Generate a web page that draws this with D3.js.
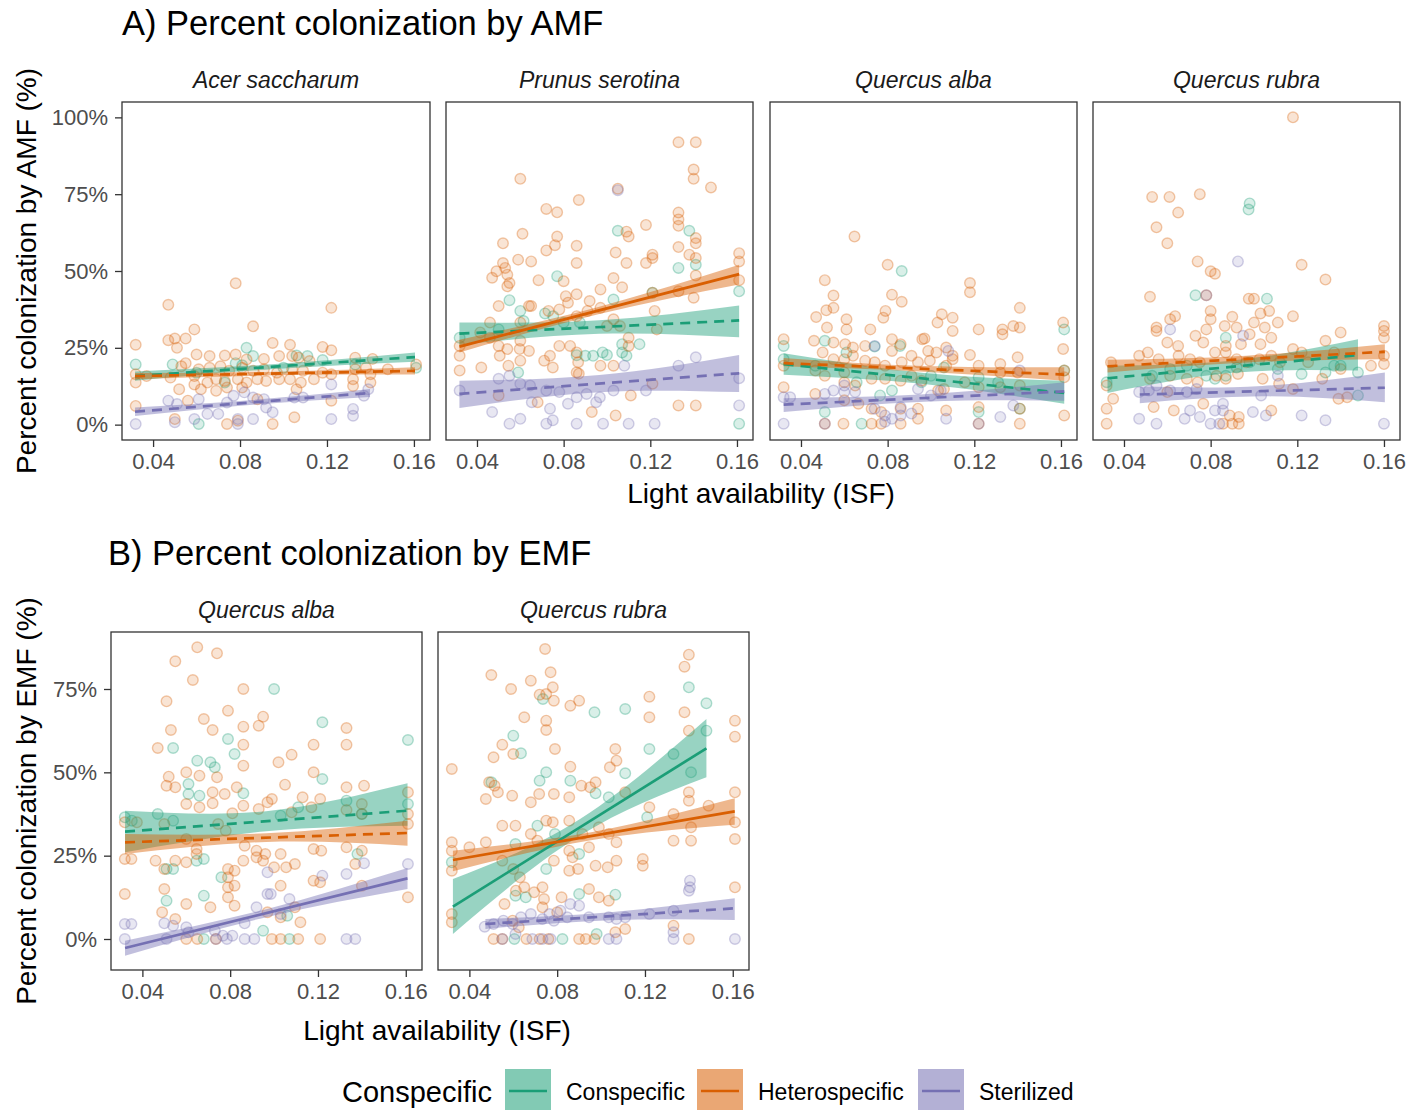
<!DOCTYPE html>
<html><head><meta charset="utf-8">
<script src="https://cdn.jsdelivr.net/npm/d3@7"></script>
<style>body{margin:0;background:#fff}svg{display:block}text{font-family:"Liberation Sans",Arial,sans-serif}</style>
</head><body><svg id="c" width="1424" height="1110"></svg>
<script>
// ---------- data ----------
const groups = ["Conspecific", "Heterospecific", "Sterilized"];
const groupColors = ["#1B9E77", "#D95F02", "#7570B3"];
const speciesA = ["Acer saccharum", "Prunus serotina", "Quercus alba", "Quercus rubra"];
const speciesB = ["Quercus alba", "Quercus rubra"];
const xTicks = [0.04, 0.08, 0.12, 0.16];
const yTicksA = [0, 0.25, 0.5, 0.75, 1];
const yTicksB = [0, 0.25, 0.5, 0.75];
const titleA = "A) Percent colonization by AMF";
const titleB = "B) Percent colonization by EMF";
const yTitleA = "Percent colonization by AMF (%)";
const yTitleB = "Percent colonization by EMF (%)";
const xTitle = "Light availability (ISF)";
const legendTitle = "Conspecific";

// Points [ISF, colonization]
const acerCon = [[0.032,0.196],[0.083,0.25],[0.1,0.185],[0.106,0.225],[0.111,0.223],[0.118,0.21],[0.081,0.193],[0.078,0.2],[0.073,0.137],[0.161,0.185],[0.061,0.002],[0.049,0.196],[0.086,0.223],[0.133,0.196],[0.06,0.169]];
const acerHet = [[0.078,0.46],[0.047,0.39],[0.122,0.38],[0.059,0.31],[0.086,0.32],[0.05,0.28],[0.055,0.28],[0.047,0.275],[0.032,0.26],[0.095,0.266],[0.103,0.26],[0.118,0.253],[0.122,0.242],[0.051,0.25],[0.06,0.228],[0.066,0.223],[0.073,0.225],[0.078,0.228],[0.083,0.212],[0.091,0.214],[0.098,0.223],[0.104,0.223],[0.107,0.218],[0.112,0.207],[0.133,0.218],[0.141,0.214],[0.053,0.19],[0.055,0.2],[0.061,0.18],[0.066,0.185],[0.071,0.19],[0.075,0.175],[0.081,0.185],[0.086,0.175],[0.091,0.18],[0.097,0.169],[0.104,0.18],[0.109,0.175],[0.118,0.169],[0.122,0.164],[0.133,0.18],[0.138,0.185],[0.161,0.196],[0.148,0.18],[0.032,0.164],[0.032,0.137],[0.037,0.158],[0.048,0.153],[0.059,0.158],[0.059,0.131],[0.065,0.137],[0.069,0.148],[0.073,0.142],[0.079,0.148],[0.083,0.137],[0.088,0.148],[0.092,0.142],[0.098,0.148],[0.103,0.148],[0.108,0.137],[0.114,0.148],[0.132,0.148],[0.132,0.126],[0.14,0.137],[0.14,0.164],[0.052,0.115],[0.062,0.115],[0.069,0.11],[0.074,0.121],[0.081,0.121],[0.106,0.115],[0.056,0.078],[0.088,0.083],[0.122,0.078],[0.032,0.061],[0.105,0.024],[0.074,0.002],[0.095,0.002],[0.05,0.018],[0.079,0.013]];
const acerSter = [[0.032,0.002],[0.047,0.078],[0.051,0.067],[0.061,0.083],[0.065,0.035],[0.07,0.035],[0.074,0.072],[0.077,0.094],[0.082,0.105],[0.086,0.088],[0.091,0.083],[0.095,0.04],[0.079,0.018],[0.086,0.018],[0.105,0.088],[0.109,0.088],[0.122,0.131],[0.122,0.018],[0.132,0.051],[0.132,0.029],[0.139,0.115],[0.137,0.094],[0.059,0.018],[0.05,0.008],[0.079,0.002],[0.092,0.056]];

const prunusCon = [[0.105,0.631],[0.138,0.631],[0.141,0.52],[0.133,0.51],[0.161,0.434],[0.077,0.483],[0.055,0.405],[0.06,0.37],[0.0615,0.337],[0.0714,0.362],[0.0752,0.353],[0.08,0.332],[0.086,0.226],[0.09,0.224],[0.0936,0.224],[0.098,0.235],[0.1,0.227],[0.107,0.235],[0.107,0.262],[0.109,0.224],[0.059,0.17],[0.103,0.407],[0.121,0.429],[0.032,0.283],[0.05,0.31],[0.161,0.003],[0.0875,0.332],[0.115,0.262]];
const prunusHet = [[0.133,0.919],[0.141,0.919],[0.14,0.83],[0.14,0.8],[0.06,0.8],[0.148,0.772],[0.105,0.768],[0.087,0.731],[0.072,0.702],[0.077,0.691],[0.133,0.69],[0.133,0.668],[0.133,0.647],[0.118,0.65],[0.061,0.621],[0.077,0.612],[0.052,0.59],[0.076,0.584],[0.086,0.582],[0.109,0.628],[0.11,0.612],[0.104,0.56],[0.072,0.567],[0.133,0.578],[0.141,0.607],[0.141,0.59],[0.138,0.553],[0.141,0.542],[0.121,0.553],[0.121,0.542],[0.161,0.558],[0.161,0.531],[0.059,0.537],[0.065,0.531],[0.086,0.526],[0.109,0.526],[0.118,0.526],[0.052,0.526],[0.053,0.51],[0.047,0.478],[0.054,0.488],[0.0684,0.47],[0.049,0.499],[0.103,0.477],[0.141,0.485],[0.161,0.47],[0.055,0.461],[0.054,0.45],[0.107,0.447],[0.08,0.467],[0.081,0.418],[0.082,0.397],[0.097,0.44],[0.086,0.424],[0.092,0.402],[0.121,0.429],[0.133,0.434],[0.14,0.413],[0.064,0.386],[0.06,0.332],[0.065,0.386],[0.05,0.386],[0.073,0.37],[0.078,0.375],[0.086,0.353],[0.091,0.37],[0.097,0.38],[0.103,0.343],[0.106,0.321],[0.1,0.321],[0.06,0.273],[0.064,0.24],[0.05,0.256],[0.054,0.246],[0.0597,0.246],[0.0505,0.224],[0.0545,0.192],[0.06,0.208],[0.0737,0.224],[0.078,0.256],[0.083,0.256],[0.086,0.235],[0.0867,0.203],[0.086,0.17],[0.087,0.166],[0.097,0.192],[0.103,0.192],[0.11,0.283],[0.11,0.256],[0.123,0.31],[0.122,0.37],[0.032,0.224],[0.032,0.176],[0.032,0.256],[0.042,0.186],[0.05,0.095],[0.068,0.073],[0.093,0.041],[0.104,0.03],[0.111,0.095],[0.133,0.0625],[0.141,0.0625],[0.121,0.133],[0.075,0.186],[0.071,0.208],[0.046,0.283],[0.046,0.332],[0.0415,0.3]];
const prunusSter = [[0.105,0.763],[0.047,0.041],[0.055,0.003],[0.06,0.019],[0.072,0.003],[0.075,0.014],[0.086,0.003],[0.0982,0.003],[0.11,0.003],[0.122,0.003],[0.032,0.111],[0.05,0.149],[0.055,0.159],[0.06,0.133],[0.0645,0.127],[0.072,0.111],[0.078,0.106],[0.086,0.089],[0.0906,0.1],[0.0967,0.089],[0.103,0.111],[0.108,0.192],[0.118,0.111],[0.133,0.192],[0.141,0.219],[0.161,0.151],[0.161,0.0625],[0.0653,0.073],[0.0737,0.052],[0.082,0.068],[0.095,0.073]];

const qalbaAmfCon = [[0.0865,0.5],[0.032,0.256],[0.032,0.213],[0.051,0.273],[0.061,0.235],[0.074,0.254],[0.0857,0.256],[0.0466,0.192],[0.0657,0.138],[0.082,0.111],[0.0956,0.138],[0.1,0.159],[0.122,0.154],[0.131,0.138],[0.1615,0.31],[0.1615,0.176],[0.106,0.186],[0.051,0.041],[0.068,0.003],[0.0765,0.095],[0.122,0.041],[0.141,0.052]];
const qalbaAmfHet = [[0.0647,0.612],[0.08,0.52],[0.051,0.47],[0.118,0.461],[0.118,0.431],[0.055,0.42],[0.082,0.423],[0.0865,0.4],[0.0517,0.372],[0.047,0.35],[0.055,0.38],[0.052,0.316],[0.061,0.343],[0.079,0.37],[0.078,0.348],[0.072,0.31],[0.061,0.31],[0.105,0.359],[0.11,0.348],[0.103,0.332],[0.141,0.38],[0.138,0.321],[0.141,0.316],[0.133,0.31],[0.133,0.294],[0.161,0.332],[0.161,0.246],[0.122,0.31],[0.11,0.305],[0.096,0.278],[0.097,0.28],[0.082,0.278],[0.082,0.24],[0.046,0.273],[0.032,0.278],[0.055,0.267],[0.0604,0.262],[0.064,0.251],[0.0696,0.256],[0.086,0.262],[0.091,0.224],[0.0987,0.24],[0.1025,0.235],[0.107,0.251],[0.11,0.224],[0.118,0.227],[0.05,0.235],[0.055,0.213],[0.06,0.213],[0.064,0.224],[0.0696,0.208],[0.074,0.203],[0.0788,0.192],[0.0865,0.203],[0.094,0.203],[0.0995,0.208],[0.107,0.192],[0.11,0.213],[0.122,0.192],[0.132,0.197],[0.14,0.219],[0.132,0.17],[0.14,0.17],[0.032,0.192],[0.0466,0.176],[0.051,0.159],[0.06,0.17],[0.06,0.138],[0.065,0.127],[0.0726,0.149],[0.0788,0.149],[0.086,0.143],[0.091,0.159],[0.0956,0.143],[0.1033,0.111],[0.106,0.116],[0.1156,0.138],[0.122,0.122],[0.132,0.122],[0.141,0.127],[0.1615,0.176],[0.1615,0.154],[0.032,0.122],[0.0466,0.1],[0.06,0.079],[0.0726,0.052],[0.077,0.041],[0.086,0.052],[0.094,0.052],[0.107,0.046],[0.122,0.057],[0.141,0.052],[0.1615,0.03],[0.051,0.003],[0.0596,0.003],[0.0726,0.003],[0.077,0.003],[0.086,0.003],[0.094,0.019],[0.122,0.003],[0.141,0.003],[0.0665,0.068]];
const qalbaAmfSter = [[0.032,0.089],[0.035,0.089],[0.051,0.1],[0.055,0.111],[0.06,0.106],[0.065,0.106],[0.06,0.127],[0.074,0.052],[0.0788,0.03],[0.082,0.019],[0.0788,0.009],[0.086,0.057],[0.086,0.03],[0.074,0.256],[0.108,0.24],[0.1,0.095],[0.1045,0.111],[0.107,0.019],[0.122,0.003],[0.132,0.025],[0.138,0.0625],[0.141,0.176],[0.032,0.003],[0.051,0.003],[0.091,0.036],[0.094,0.116]];

const qrubraAmfCon = [[0.098,0.72],[0.0975,0.7],[0.073,0.421],[0.106,0.41],[0.087,0.283],[0.078,0.159],[0.087,0.159],[0.082,0.149],[0.092,0.186],[0.098,0.203],[0.111,0.181],[0.133,0.17],[0.137,0.192],[0.14,0.192],[0.148,0.17],[0.148,0.095],[0.032,0.138],[0.053,0.159],[0.0613,0.181],[0.069,0.192],[0.122,0.165]];
const qrubraAmfHet = [[0.118,1.0],[0.053,0.741],[0.061,0.741],[0.075,0.75],[0.065,0.69],[0.055,0.642],[0.06,0.59],[0.074,0.531],[0.122,0.52],[0.08,0.499],[0.082,0.491],[0.133,0.472],[0.078,0.421],[0.052,0.416],[0.0976,0.41],[0.1,0.41],[0.08,0.37],[0.08,0.343],[0.103,0.362],[0.107,0.37],[0.118,0.353],[0.09,0.351],[0.0613,0.343],[0.0636,0.353],[0.055,0.316],[0.055,0.305],[0.078,0.31],[0.0865,0.321],[0.092,0.316],[0.1,0.332],[0.105,0.316],[0.111,0.332],[0.16,0.321],[0.16,0.305],[0.16,0.283],[0.06,0.267],[0.065,0.256],[0.073,0.289],[0.0766,0.267],[0.087,0.256],[0.094,0.262],[0.098,0.294],[0.103,0.262],[0.108,0.283],[0.118,0.246],[0.122,0.235],[0.133,0.273],[0.14,0.3],[0.137,0.235],[0.16,0.224],[0.16,0.197],[0.047,0.224],[0.034,0.203],[0.051,0.235],[0.056,0.213],[0.0652,0.224],[0.0705,0.213],[0.075,0.203],[0.082,0.235],[0.087,0.235],[0.092,0.213],[0.0964,0.203],[0.1025,0.213],[0.108,0.224],[0.112,0.203],[0.125,0.203],[0.14,0.181],[0.154,0.192],[0.032,0.127],[0.035,0.084],[0.032,0.052],[0.052,0.149],[0.0613,0.159],[0.069,0.149],[0.074,0.138],[0.0827,0.159],[0.087,0.149],[0.0926,0.165],[0.104,0.149],[0.1116,0.133],[0.118,0.116],[0.1315,0.149],[0.139,0.084],[0.143,0.089],[0.0537,0.057],[0.063,0.046],[0.0766,0.068],[0.0888,0.03],[0.093,0.025],[0.108,0.046],[0.032,0.003],[0.0857,0.003],[0.09,0.003],[0.093,0.003],[0.06,0.106]];
const qrubraAmfSter = [[0.0926,0.531],[0.078,0.421],[0.0613,0.31],[0.047,0.106],[0.0515,0.111],[0.055,0.127],[0.0613,0.111],[0.069,0.106],[0.0735,0.116],[0.095,0.289],[0.1033,0.095],[0.111,0.159],[0.082,0.046],[0.0857,0.068],[0.0857,0.046],[0.0705,0.046],[0.075,0.025],[0.08,0.003],[0.084,0.003],[0.047,0.019],[0.055,0.003],[0.068,0.019],[0.0995,0.041],[0.1055,0.03],[0.122,0.03],[0.133,0.014],[0.16,0.003]];

const qalbaEmfCon = [[0.1,0.75],[0.122,0.65],[0.161,0.597],[0.079,0.6],[0.082,0.555],[0.065,0.535],[0.071,0.53],[0.073,0.515],[0.054,0.573],[0.061,0.465],[0.086,0.437],[0.061,0.435],[0.066,0.43],[0.122,0.48],[0.032,0.365],[0.0352,0.355],[0.047,0.375],[0.054,0.355],[0.103,0.37],[0.111,0.395],[0.133,0.415],[0.14,0.375],[0.161,0.405],[0.051,0.21],[0.054,0.21],[0.0647,0.235],[0.068,0.24],[0.076,0.185],[0.068,0.13],[0.051,0.115],[0.095,0.025],[0.106,0.07],[0.107,0],[0.068,0],[0.138,0.255]];
const qalbaEmfHet = [[0.065,0.875],[0.074,0.857],[0.055,0.833],[0.063,0.777],[0.051,0.713],[0.086,0.75],[0.079,0.685],[0.068,0.66],[0.095,0.667],[0.053,0.627],[0.093,0.64],[0.086,0.637],[0.072,0.627],[0.133,0.633],[0.133,0.583],[0.118,0.583],[0.047,0.573],[0.086,0.583],[0.108,0.553],[0.102,0.53],[0.086,0.52],[0.118,0.5],[0.052,0.487],[0.06,0.5],[0.066,0.49],[0.074,0.485],[0.083,0.455],[0.105,0.463],[0.051,0.46],[0.055,0.455],[0.072,0.44],[0.0775,0.435],[0.099,0.42],[0.113,0.425],[0.121,0.42],[0.133,0.455],[0.141,0.46],[0.161,0.44],[0.161,0.375],[0.161,0.345],[0.06,0.405],[0.066,0.395],[0.072,0.407],[0.081,0.377],[0.086,0.4],[0.093,0.39],[0.097,0.41],[0.108,0.38],[0.117,0.395],[0.133,0.387],[0.14,0.405],[0.14,0.375],[0.032,0.35],[0.0375,0.35],[0.05,0.345],[0.06,0.3],[0.0647,0.27],[0.0745,0.345],[0.078,0.325],[0.0866,0.28],[0.092,0.265],[0.095,0.235],[0.1,0.215],[0.1055,0.215],[0.1095,0.225],[0.103,0.255],[0.096,0.255],[0.118,0.27],[0.1215,0.265],[0.133,0.275],[0.14,0.265],[0.137,0.225],[0.032,0.24],[0.035,0.24],[0.046,0.235],[0.05,0.21],[0.055,0.235],[0.06,0.23],[0.0647,0.255],[0.079,0.21],[0.079,0.185],[0.082,0.205],[0.079,0.155],[0.082,0.16],[0.079,0.125],[0.082,0.1],[0.086,0.235],[0.092,0.245],[0.103,0.16],[0.1095,0.095],[0.112,0.05],[0.118,0.175],[0.121,0.17],[0.14,0.16],[0.161,0.125],[0.032,0.135],[0.05,0.15],[0.06,0.105],[0.071,0.095],[0.055,0.06],[0.049,0.08],[0.06,0],[0.065,0],[0.0735,0],[0.099,0],[0.103,0],[0.111,0],[0.121,0],[0.103,0.065],[0.097,0.08]];
const qalbaEmfSter = [[0.032,0.045],[0.035,0.045],[0.032,0],[0.05,0.047],[0.054,0.04],[0.06,0.035],[0.061,0.02],[0.073,0.025],[0.0767,0.01],[0.0785,0],[0.081,0.01],[0.0866,0.047],[0.0866,0],[0.091,0],[0.097,0.135],[0.0985,0.135],[0.107,0.12],[0.103,0.075],[0.097,0.2],[0.122,0.19],[0.133,0.195],[0.141,0.227],[0.161,0.225],[0.133,0],[0.137,0],[0.092,0.095],[0.0735,0],[0.051,0]];

const qrubraEmfCon = [[0.0735,0.72],[0.097,0.68],[0.111,0.69],[0.14,0.755],[0.148,0.707],[0.148,0.625],[0.06,0.61],[0.0635,0.557],[0.05,0.47],[0.072,0.475],[0.075,0.5],[0.086,0.475],[0.0975,0.437],[0.1035,0.425],[0.111,0.497],[0.122,0.57],[0.133,0.555],[0.141,0.5],[0.121,0.365],[0.032,0.23],[0.061,0.285],[0.071,0.34],[0.079,0.315],[0.09,0.255],[0.075,0.21],[0.061,0.13],[0.0657,0.125],[0.09,0.135],[0.1065,0.133],[0.098,0.015],[0.0824,0],[0.0605,0]];
const qrubraEmfHet = [[0.0745,0.87],[0.14,0.853],[0.138,0.817],[0.05,0.792],[0.077,0.8],[0.059,0.75],[0.068,0.775],[0.072,0.733],[0.075,0.735],[0.078,0.755],[0.0785,0.715],[0.086,0.7],[0.09,0.715],[0.065,0.665],[0.075,0.655],[0.075,0.627],[0.079,0.57],[0.06,0.555],[0.051,0.545],[0.055,0.583],[0.122,0.727],[0.122,0.665],[0.138,0.68],[0.14,0.625],[0.161,0.655],[0.161,0.607],[0.032,0.51],[0.1065,0.57],[0.107,0.535],[0.086,0.517],[0.091,0.46],[0.095,0.455],[0.104,0.515],[0.0975,0.47],[0.049,0.47],[0.0515,0.46],[0.053,0.44],[0.0475,0.42],[0.0595,0.43],[0.068,0.41],[0.0718,0.435],[0.0785,0.435],[0.0855,0.425],[0.111,0.44],[0.122,0.395],[0.14,0.44],[0.14,0.415],[0.133,0.375],[0.149,0.4],[0.161,0.44],[0.161,0.35],[0.161,0.3],[0.032,0.29],[0.032,0.265],[0.032,0.205],[0.04,0.275],[0.0475,0.29],[0.055,0.34],[0.061,0.34],[0.068,0.315],[0.075,0.355],[0.078,0.35],[0.071,0.295],[0.0855,0.355],[0.0915,0.315],[0.099,0.335],[0.1035,0.315],[0.107,0.29],[0.0945,0.275],[0.0855,0.265],[0.087,0.245],[0.0785,0.235],[0.0855,0.205],[0.0895,0.21],[0.0975,0.22],[0.103,0.215],[0.107,0.235],[0.119,0.24],[0.119,0.22],[0.133,0.295],[0.141,0.335],[0.141,0.295],[0.055,0.235],[0.06,0.21],[0.063,0.185],[0.065,0.155],[0.0612,0.145],[0.0695,0.14],[0.0733,0.155],[0.074,0.12],[0.082,0.125],[0.0733,0.095],[0.08,0.08],[0.056,0.105],[0.0597,0.055],[0.0625,0.035],[0.032,0.05],[0.032,0.075],[0.051,0],[0.055,0],[0.066,0],[0.072,0],[0.076,0],[0.09,0],[0.093,0],[0.097,0],[0.1065,0.02],[0.111,0.03],[0.133,0.04],[0.14,0],[0.161,0.155],[0.099,0.125],[0.1035,0.115],[0.0945,0.15]];
const qrubraEmfSter = [[0.047,0.037],[0.051,0.045],[0.0555,0.055],[0.0597,0.045],[0.0635,0.065],[0.068,0.075],[0.0733,0.06],[0.0765,0.075],[0.0815,0.085],[0.086,0.105],[0.09,0.1],[0.0785,0.055],[0.0846,0.065],[0.0945,0.065],[0.1035,0.065],[0.107,0.06],[0.111,0.065],[0.122,0.075],[0.133,0.085],[0.1405,0.175],[0.1405,0.155],[0.14,0.145],[0.133,0.02],[0.133,0],[0.161,0],[0.0687,0],[0.0733,0],[0.077,0],[0.1035,0],[0.107,0],[0.061,0.015],[0.055,0]];

// Fitted lines: [groupIndex, dashed, xStart, xEnd, yStart, yEnd, bandLoStart, bandHiStart, bandHalfMid, bandLoEnd, bandHiEnd]
const fitAcer = [[0,1,0.0317,0.1605,0.158,0.22,0.143,0.173,0.008,0.205,0.235],[1,1,0.0317,0.1605,0.158,0.175,0.148,0.168,0.006,0.163,0.187],[2,1,0.0317,0.1398,0.042,0.103,0.028,0.056,0.008,0.09,0.116]];
const fitPrunus = [[0,1,0.0319,0.161,0.296,0.339,0.259,0.332,0.022,0.284,0.388],[1,0,0.0319,0.161,0.254,0.49,0.235,0.276,0.012,0.456,0.52],[2,1,0.0319,0.161,0.1,0.167,0.054,0.143,0.028,0.106,0.227]];
const fitQalbaAmf = [[0,1,0.032,0.1615,0.197,0.103,0.162,0.232,0.018,0.068,0.143],[1,1,0.032,0.1615,0.2,0.163,0.19,0.217,0.009,0.143,0.187],[2,1,0.032,0.1615,0.065,0.108,0.041,0.086,0.012,0.078,0.138]];
const fitQrubraAmf = [[0,1,0.0324,0.148,0.151,0.226,0.103,0.192,0.02,0.176,0.278],[1,1,0.0324,0.1604,0.19,0.237,0.17,0.211,0.011,0.213,0.262],[2,1,0.0473,0.1604,0.098,0.12,0.07,0.124,0.017,0.073,0.17]];
const fitQalbaEmf = [[0,1,0.0321,0.1608,0.322,0.385,0.26,0.385,0.03,0.34,0.467],[1,1,0.0321,0.1608,0.29,0.318,0.255,0.315,0.013,0.28,0.355],[2,0,0.0321,0.1608,-0.027,0.182,-0.05,-0.005,0.012,0.15,0.213]];
const fitQrubraEmf = [[0,0,0.0325,0.148,0.097,0.572,0.015,0.18,0.025,0.485,0.66],[1,0,0.0325,0.1609,0.237,0.383,0.203,0.265,0.012,0.343,0.422],[2,1,0.0473,0.1609,0.045,0.092,0.03,0.06,0.012,0.057,0.122]];

const panelsA = [
  {label: speciesA[0], pts: [acerCon, acerHet, acerSter], fits: fitAcer},
  {label: speciesA[1], pts: [prunusCon, prunusHet, prunusSter], fits: fitPrunus},
  {label: speciesA[2], pts: [qalbaAmfCon, qalbaAmfHet, qalbaAmfSter], fits: fitQalbaAmf},
  {label: speciesA[3], pts: [qrubraAmfCon, qrubraAmfHet, qrubraAmfSter], fits: fitQrubraAmf}
];
const panelsB = [
  {label: speciesB[0], pts: [qalbaEmfCon, qalbaEmfHet, qalbaEmfSter], fits: fitQalbaEmf},
  {label: speciesB[1], pts: [qrubraEmfCon, qrubraEmfHet, qrubraEmfSter], fits: fitQrubraEmf}
];

// ---------- drawing ----------
const svg = d3.select("#c");
const xDomain = [0.0257, 0.1674];
const pct = d3.format(".0%");
const INK = "#333333", TICKTXT = "#4D4D4D";
let clipId = 0;

function drawPanel(p, x0, x1, y0, y1, yDomain, yTicks, showY) {
  const x = d3.scaleLinear().domain(xDomain).range([x0, x1]);
  const y = d3.scaleLinear().domain(yDomain).range([y1, y0]);
  const g = svg.append("g");
  const cid = "clip" + (clipId++);
  g.append("clipPath").attr("id", cid).append("rect").attr("x", x0).attr("y", y0).attr("width", x1 - x0).attr("height", y1 - y0);
  const inner = g.append("g").attr("clip-path", `url(#${cid})`);
  // points
  p.pts.forEach((arr, gi) => {
    inner.append("g").selectAll("circle").data(arr).join("circle")
      .attr("cx", d => x(d[0])).attr("cy", d => y(d[1])).attr("r", 5.3)
      .attr("fill", groupColors[gi]).attr("fill-opacity", 0.17)
      .attr("stroke", groupColors[gi]).attr("stroke-opacity", 0.33).attr("stroke-width", 1.4);
  });
  // bands
  p.fits.forEach(f => {
    const [gi, dashed, xa, xb, ya, yb, loA, hiA, hm, loB, hiB] = f;
    const xm = (xa + xb) / 2, ym = (ya + yb) / 2;
    const band = [[xa, loA, hiA], [xm, ym - hm, ym + hm], [xb, loB, hiB]];
    inner.append("path").datum(band)
      .attr("d", d3.area().x(d => x(d[0])).y0(d => y(d[1])).y1(d => y(d[2])).curve(d3.curveNatural))
      .attr("fill", groupColors[gi]).attr("fill-opacity", 0.45);
  });
  // lines
  p.fits.forEach(f => {
    const [gi, dashed, xa, xb, ya, yb] = f;
    inner.append("line").attr("x1", x(xa)).attr("x2", x(xb)).attr("y1", y(ya)).attr("y2", y(yb))
      .attr("stroke", groupColors[gi]).attr("stroke-width", 2.7)
      .attr("stroke-dasharray", dashed ? "10,7" : null);
  });
  // border
  g.append("rect").attr("x", x0).attr("y", y0).attr("width", x1 - x0).attr("height", y1 - y0)
    .attr("fill", "none").attr("stroke", INK).attr("stroke-width", 1.3);
  // x axis
  const xa = g.append("g").attr("transform", `translate(0,${y1})`)
    .call(d3.axisBottom(x).tickValues(xTicks).tickFormat(d3.format(".2f")).tickSize(7).tickPadding(6));
  xa.select(".domain").remove();
  xa.selectAll("line").attr("stroke", INK).attr("stroke-width", 1.3);
  xa.selectAll("text").attr("fill", TICKTXT).style("font-size", "22px").style("font-family", '"Liberation Sans",Arial,sans-serif');
  if (showY) {
    const ya = g.append("g").attr("transform", `translate(${x0},0)`)
      .call(d3.axisLeft(y).tickValues(yTicks).tickFormat(pct).tickSize(7).tickPadding(7));
    ya.select(".domain").remove();
    ya.selectAll("line").attr("stroke", INK).attr("stroke-width", 1.3);
    ya.selectAll("text").attr("fill", TICKTXT).style("font-size", "22px").style("font-family", '"Liberation Sans",Arial,sans-serif');
  }
  // strip label
  g.append("text").attr("x", (x0 + x1) / 2).attr("y", y0 - 14).attr("text-anchor", "middle")
    .style("font-size", "23px").style("font-style", "italic").attr("fill", "#1a1a1a").text(p.label);
}

// Panel A
const aX = [[122, 430], [446, 753], [770, 1077], [1093, 1400]];
panelsA.forEach((p, i) => drawPanel(p, aX[i][0], aX[i][1], 102, 440, [-0.05, 1.05], yTicksA, i === 0));
// Panel B
const bX = [[111, 422], [438, 749]];
panelsB.forEach((p, i) => drawPanel(p, bX[i][0], bX[i][1], 632, 970, [-0.093, 0.921], yTicksB, i === 0));

// titles
svg.append("text").attr("x", 122).attr("y", 35).style("font-size", "34.5px").attr("fill", "#000").text(titleA);
svg.append("text").attr("x", 108).attr("y", 565).style("font-size", "34.5px").attr("fill", "#000").text(titleB);
svg.append("text").attr("x", 761).attr("y", 503).attr("text-anchor", "middle").style("font-size", "28px").text(xTitle);
svg.append("text").attr("x", 437).attr("y", 1040).attr("text-anchor", "middle").style("font-size", "28px").text(xTitle);
svg.append("text").attr("transform", "translate(36,271) rotate(-90)").attr("text-anchor", "middle").style("font-size", "28px").text(yTitleA);
svg.append("text").attr("transform", "translate(36,801) rotate(-90)").attr("text-anchor", "middle").style("font-size", "28px").text(yTitleB);

// legend
svg.append("text").attr("x", 342).attr("y", 1102).style("font-size", "29px").text(legendTitle);
const keyX = [505, 697, 918];
groups.forEach((gname, i) => {
  const kx = keyX[i];
  svg.append("rect").attr("x", kx).attr("y", 1069).attr("width", 46).attr("height", 44)
    .attr("fill", groupColors[i]).attr("fill-opacity", 0.55);
  svg.append("line").attr("x1", kx + 4).attr("x2", kx + 42).attr("y1", 1091).attr("y2", 1091)
    .attr("stroke", groupColors[i]).attr("stroke-width", 2.6);
  svg.append("text").attr("x", kx + 61).attr("y", 1100).style("font-size", "23px").text(gname);
});
</script>
</body></html>
